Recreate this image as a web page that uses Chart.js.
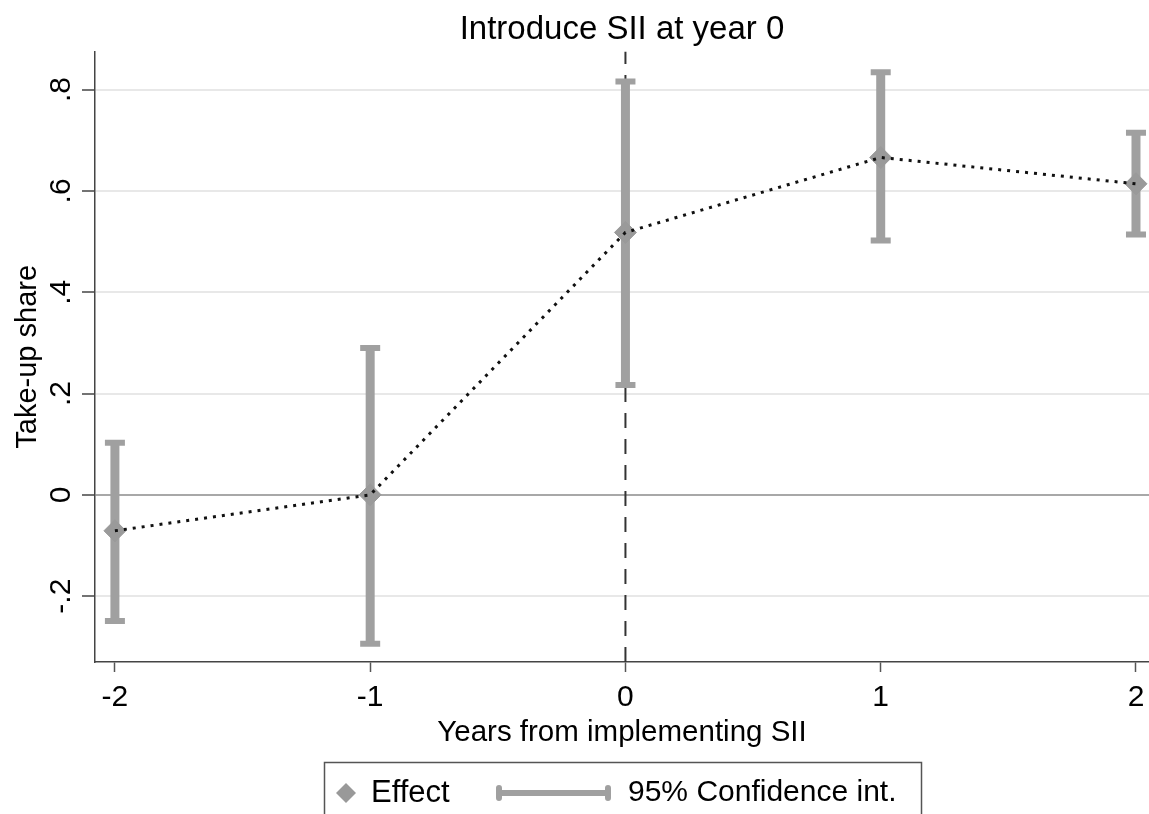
<!DOCTYPE html>
<html>
<head>
<meta charset="utf-8">
<script src="https://cdn.jsdelivr.net/npm/chart.js@4.4.1/dist/chart.umd.min.js"></script>
<style>
html, body { margin: 0; padding: 0; background: #fff; }
</style>
</head>
<body>
<canvas id="c" width="1149" height="814"></canvas>
<script>
// values
var years = [-2, -1, 0, 1, 2];
var effect = [-0.071, 0.0, 0.518, 0.666, 0.614];
var ciLow = [-0.249, -0.294, 0.217, 0.502, 0.514];
var ciHigh = [0.103, 0.290, 0.816, 0.834, 0.715];
var yTicks = [-0.2, 0, 0.2, 0.4, 0.6, 0.8];
var yTickLabels = ["-.2", "0", ".2", ".4", ".6", ".8"];
var xTicks = [-2, -1, 0, 1, 2];
var eventYear = 0;

var yMin = -0.33, yMax = 0.875;
var xMin = -2.078, xMax = 2.051;

var font = "'Liberation Sans', Arial, sans-serif";
var gray = "#a0a0a0";

var effectPoints = [];
var ciPoints = [];
years.forEach(function(yr, i) {
    effectPoints.push({x: yr, y: effect[i]});
    ciPoints.push({x: yr, y: ciLow[i]});
    ciPoints.push({x: yr, y: ciHigh[i]});
    ciPoints.push({x: yr, y: null});
});

// rotated y tick labels, stata style
var yLabelPlugin = {
    id: "yLabels",
    afterDraw: function(chart) {
        var ctx = chart.ctx;
        var sc = chart.scales.y;
        ctx.save();
        ctx.fillStyle = "#000";
        ctx.font = "30px " + font;
        ctx.textAlign = "center";
        ctx.textBaseline = "middle";
        yTicks.forEach(function(v, i) {
            var py = sc.getPixelForValue(v);
            ctx.save();
            ctx.translate(sc.right - 33, py);
            ctx.rotate(-Math.PI / 2);
            ctx.fillText(yTickLabels[i], 0, 0);
            ctx.restore();
        });
        ctx.restore();
    }
};

// legend box below the axis title
var legendPlugin = {
    id: "statLegend",
    afterDraw: function(chart) {
        var ctx = chart.ctx;
        var a = chart.chartArea;
        var w = 597;
        var left = Math.round((a.left + a.right) / 2 - w / 2);
        var top = Math.round(chart.scales.x.bottom);
        var cy = top + 31;
        ctx.save();
        ctx.strokeStyle = "#555";
        ctx.lineWidth = 1.5;
        ctx.strokeRect(left + 0.5, top + 0.5, w, 90);

        // diamond
        ctx.fillStyle = "#999";
        ctx.beginPath();
        ctx.moveTo(left + 22, cy - 10);
        ctx.lineTo(left + 32, cy);
        ctx.lineTo(left + 22, cy + 10);
        ctx.lineTo(left + 12, cy);
        ctx.closePath();
        ctx.fill();

        // ci line with caps
        ctx.strokeStyle = gray;
        ctx.lineWidth = 6;
        ctx.beginPath();
        ctx.moveTo(left + 172, cy);
        ctx.lineTo(left + 287, cy);
        ctx.stroke();
        ctx.lineWidth = 6;
        ctx.lineCap = "round";
        ctx.beginPath();
        ctx.moveTo(left + 175, cy - 5);
        ctx.lineTo(left + 175, cy + 5);
        ctx.moveTo(left + 284, cy - 5);
        ctx.lineTo(left + 284, cy + 5);
        ctx.stroke();

        ctx.fillStyle = "#000";
        ctx.font = "31px " + font;
        ctx.textBaseline = "middle";
        ctx.textAlign = "left";
        ctx.fillText("Effect", left + 47, cy);
        ctx.font = "30px " + font;
        ctx.fillText("95% Confidence int.", left + 304, cy);
        ctx.restore();
    }
};

new Chart(document.getElementById("c"), {
    type: "line",
    data: {
        datasets: [
            {
                label: "Effect",
                data: effectPoints,
                showLine: false,
                pointStyle: "rectRot",
                pointRadius: 11,
                pointBorderWidth: 1,
                pointBackgroundColor: "#9a9a9a",
                pointBorderColor: "#9a9a9a",
                order: 2
            },
            {
                label: "95% Confidence int.",
                data: ciPoints,
                borderColor: gray,
                borderWidth: 9,
                spanGaps: false,
                pointStyle: "line",
                pointRadius: 10,
                pointBorderWidth: 6,
                pointBorderColor: gray,
                order: 3
            },
            {
                label: "",
                data: effectPoints,
                borderColor: "#111",
                borderWidth: 3,
                borderDash: [3, 6],
                pointRadius: 0,
                tension: 0,
                order: 1
            },
            {
                label: "",
                data: [{x: eventYear, y: yMin}, {x: eventYear, y: yMax}],
                borderColor: "#333",
                borderWidth: 2,
                borderDash: [15, 11],
                pointRadius: 0,
                order: 4
            }
        ]
    },
    options: {
        responsive: false,
        animation: false,
        devicePixelRatio: 1,
        layout: { autoPadding: false, padding: { left: 0, right: 0, top: 0, bottom: 52 } },
        plugins: {
            legend: { display: false },
            tooltip: { enabled: false },
            title: {
                display: true,
                text: "Introduce SII at year 0",
                color: "#000",
                fullSize: false,
                font: { family: font, size: 33, weight: "normal" },
                padding: { top: 10, bottom: 2 }
            }
        },
        scales: {
            x: {
                type: "linear",
                min: xMin,
                max: xMax,
                afterBuildTicks: function(s) {
                    s.ticks = xTicks.map(function(v) { return {value: v}; });
                },
                afterFit: function(s) {
                    s.height = 100;
                    s.paddingLeft = 0;
                    s.paddingRight = 0;
                },
                ticks: {
                    color: "#000",
                    font: { family: font, size: 30 },
                    padding: 8,
                    maxRotation: 0,
                    autoSkip: false,
                    callback: function(v) { return String(v); }
                },
                grid: {
                    drawOnChartArea: false,
                    tickLength: 10,
                    tickColor: "#555",
                    tickWidth: 1.5
                },
                border: { color: "#444", width: 1.5 },
                title: {
                    display: true,
                    text: "Years from implementing SII",
                    color: "#000",
                    font: { family: font, size: 29.5 },
                    padding: { top: 0, bottom: 11 }
                }
            },
            y: {
                type: "linear",
                min: yMin,
                max: yMax,
                afterBuildTicks: function(s) {
                    s.ticks = yTicks.map(function(v) { return {value: v}; });
                },
                afterFit: function(s) { s.width = 95; },
                ticks: { display: false },
                grid: {
                    color: function(ctx) {
                        return ctx.tick && ctx.tick.value === 0 ? "#a8a8a8" : "#e8e8e8";
                    },
                    lineWidth: 2,
                    tickLength: 13,
                    tickColor: "#444",
                    tickWidth: 1.5
                },
                border: { color: "#444", width: 1.5 },
                title: {
                    display: true,
                    text: "Take-up share",
                    color: "#000",
                    font: { family: font, size: 29 },
                    padding: { top: 11, bottom: 0 }
                }
            }
        }
    },
    plugins: [yLabelPlugin, legendPlugin]
});
</script>
</body>
</html>
